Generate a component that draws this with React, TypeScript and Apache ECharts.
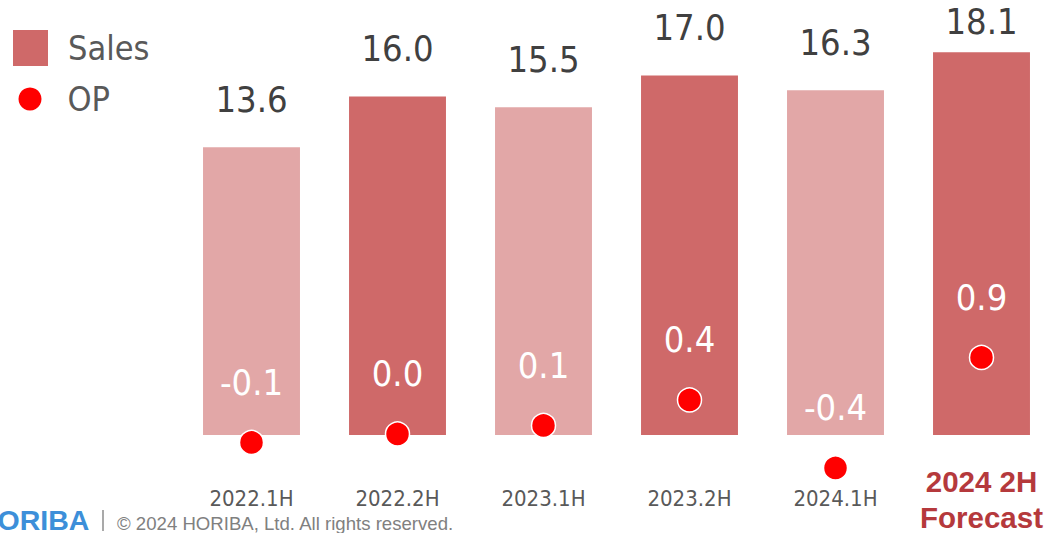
import React, { useEffect, useRef } from "react";
import * as echarts from "echarts";

const categories = ["2022.1H", "2022.2H", "2023.1H", "2023.2H", "2024.1H", "2024 2H\nForecast"];
const salesValues = [13.6, 16.0, 15.5, 17.0, 16.3, 18.1];
const opValues = [-0.1, 0.0, 0.1, 0.4, -0.4, 0.9];
const barShades = ["light", "dark", "light", "dark", "light", "dark"];

const DARK = "#cf6969";
const LIGHT = "#e2a7a7";
const FONT = "'DejaVu Sans Condensed', 'DejaVu Sans', sans-serif";

export default function App() {
  const ref = useRef<HTMLDivElement>(null);

  useEffect(() => {
    if (!ref.current) return;
    const chart = echarts.init(ref.current, null, { renderer: "svg" });
    const lastIndex = salesValues.length - 1;
    const option = {
      animation: false,
      backgroundColor: "#ffffff",
      grid: { left: 178.5, width: 876, top: 12, bottom: 98, containLabel: false },
      legend: [
        {
          data: ["Sales"],
          orient: "vertical",
          left: 13,
          top: 30,
          padding: 0,
          icon: "rect",
          itemWidth: 35,
          itemHeight: 36,
          selectedMode: false,
          textStyle: { fontFamily: FONT, fontSize: 34, color: "#595959", padding: [0, 0, 0, 15] },
        },
        {
          data: ["OP"],
          orient: "vertical",
          left: 18.5,
          top: 82,
          padding: 0,
          icon: "circle",
          itemWidth: 23,
          itemHeight: 23,
          selectedMode: false,
          itemStyle: { borderWidth: 0, opacity: 1 },
          textStyle: { fontFamily: FONT, fontSize: 34, color: "#595959", padding: [0, 0, 0, 21] },
        },
      ],
      xAxis: {
        type: "category",
        data: categories,
        axisLine: { show: false },
        axisTick: { show: false },
        axisLabel: {
          interval: 0,
          margin: 28,
          formatter: (v: string) =>
            v.includes("\n")
              ? v.split("\n").map((s) => `{f|${s}}`).join("\n")
              : `{n|${v}}`,
          rich: {
            n: { fontFamily: FONT, fontSize: 22, color: "#595959", lineHeight: 70 },
            f: {
              fontFamily: "'Liberation Sans', Arial, sans-serif",
              fontWeight: "bold",
              fontSize: 29.5,
              color: "#b5393c",
              lineHeight: 36,
            },
          },
        },
      },
      yAxis: [
        { type: "value", min: 0, max: 20, show: false, splitLine: { show: false } },
        { type: "value", min: -0.012, max: 4.965, show: false, splitLine: { show: false } },
      ],
      series: [
        {
          name: "Sales",
          type: "bar",
          barCategoryGap: "33.6%",
          itemStyle: { color: DARK },
          data: salesValues.map((v, i) => ({
            value: v,
            itemStyle: { color: barShades[i] === "light" ? LIGHT : DARK },
            label: i === lastIndex ? { distance: 14 } : undefined,
          })),
          label: {
            show: true,
            position: "top",
            distance: 31,
            fontFamily: FONT,
            fontSize: 36,
            lineHeight: 34,
            color: "#404040",
            formatter: (p: any) => Number(p.value).toFixed(1),
          },
          z: 1,
        },
        {
          name: "OP",
          type: "scatter",
          yAxisIndex: 1,
          clip: false,
          symbol: "circle",
          symbolSize: 24,
          itemStyle: { color: "#ff0000", borderColor: "#ffffff", borderWidth: 1.5, opacity: 1 },
          data: opValues,
          label: {
            show: true,
            position: "inside",
            offset: [0, -60],
            fontFamily: FONT,
            fontSize: 36,
            color: "#ffffff",
            opacity: 1,
            formatter: (p: any) => Number(p.value).toFixed(1),
          },
          z: 3,
        },
      ],
      graphic: [
        {
          type: "text",
          left: -23,
          top: 505,
          style: {
            text: "HORIBA",
            fontFamily: "'Liberation Sans', Arial, sans-serif",
            fontWeight: 900,
            fontSize: 28.5,
            fill: "#3d8fd9",
          },
        },
        {
          type: "line",
          shape: { x1: 103, y1: 510, x2: 103, y2: 531 },
          style: { stroke: "#8c8c8c", lineWidth: 1.5 },
        },
        {
          type: "text",
          left: 117,
          top: 514,
          style: {
            text: "© 2024 HORIBA, Ltd. All rights reserved.",
            fontFamily: "'Liberation Sans', Arial, sans-serif",
            fontSize: 18.6,
            fill: "#808080",
          },
        },
      ],
    };
    chart.setOption(option as any);
    return () => chart.dispose();
  }, []);

  return (
    <div
      ref={ref}
      style={{ position: "fixed", left: 0, top: 0, width: 1062, height: 533, background: "#fff" }}
    />
  );
}
